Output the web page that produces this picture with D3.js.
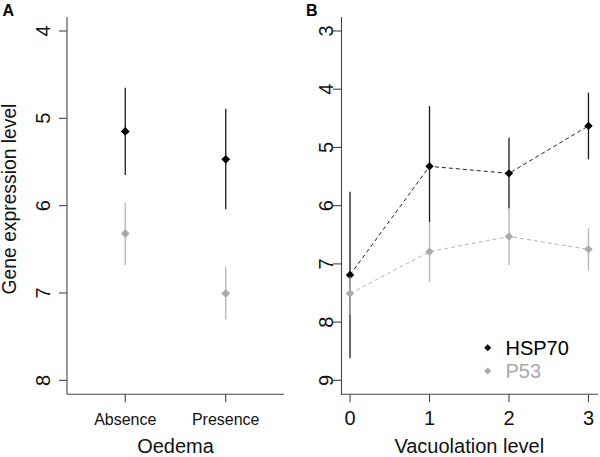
<!DOCTYPE html>
<html>
<head>
<meta charset="utf-8">
<script src="https://cdn.jsdelivr.net/npm/d3@7"></script>
<style>
  body { margin: 0; background: #fff; }
  svg { display: block; font-family: "Liberation Sans", Arial, sans-serif; }
</style>
</head>
<body>
<svg id="chart" width="600" height="457"></svg>
<script>
// ---- Panel A data (Oedema) ----
const oedemaCats = ["Absence", "Presence"];
const oedemaHspMean = [5.15, 5.47];
const oedemaHspLo = [4.65, 4.89];
const oedemaHspHi = [5.65, 6.04];
const oedemaP53Mean = [6.32, 7.005];
const oedemaP53Lo = [5.97, 6.70];
const oedemaP53Hi = [6.68, 7.30];
const aYTicks = [4, 5, 6, 7, 8];

// ---- Panel B data (Vacuolation) ----
const vacLevels = [0, 1, 2, 3];
const vacHspMean = [7.19, 5.325, 5.445, 4.63];
const vacHspLo = [5.76, 4.29, 4.83, 4.06];
const vacHspHi = [8.62, 6.28, 6.05, 5.205];
const vacP53Mean = [7.51, 6.79, 6.53, 6.75];
const vacP53Lo = [7.22, 6.28, 6.04, 6.39];
const vacP53Hi = [7.88, 7.31, 7.02, 7.11];
const bYTicks = [3, 4, 5, 6, 7, 8, 9];

const seriesNames = ["HSP70", "P53"];
const colors = { HSP70: "#000000", P53: "#aaaaaa" };
const barColors = { HSP70: "#1a1a1a", P53: "#b4b4b4" };
const axisColor = "#444";

const svg = d3.select("#chart");
const diamond = (s) => `M0,${-s}L${s},0L0,${s}L${-s},0Z`;

// ---------- Panel A ----------
const ax = d3.scaleLinear().domain([0.42, 2.58]).range([67, 284]);
const ay = d3.scaleLinear().domain([3.84, 8.16]).range([17, 394.3]);
const gA = svg.append("g");

// axes (L box)
gA.append("line").attr("x1", 67).attr("x2", 67).attr("y1", ay(3.84)).attr("y2", ay(8.16))
  .attr("stroke", axisColor).attr("stroke-width", 1.1);
gA.append("line").attr("x1", ax(0.42)).attr("x2", ax(2.58)).attr("y1", ay(8.16)).attr("y2", ay(8.16))
  .attr("stroke", axisColor).attr("stroke-width", 1.1);
aYTicks.forEach(t => {
  gA.append("line").attr("x1", 59).attr("x2", 67).attr("y1", ay(t)).attr("y2", ay(t))
    .attr("stroke", axisColor).attr("stroke-width", 1.1);
  gA.append("text").attr("transform", `translate(50,${ay(t)}) rotate(-90)`)
    .attr("text-anchor", "middle").attr("font-size", 20).attr("fill", "#111").text(t);
});
oedemaCats.forEach((c, i) => {
  gA.append("line").attr("x1", ax(i + 1)).attr("x2", ax(i + 1)).attr("y1", ay(8.16)).attr("y2", ay(8.16) + 8)
    .attr("stroke", axisColor).attr("stroke-width", 1.1);
  gA.append("text").attr("x", ax(i + 1)).attr("y", 425).attr("text-anchor", "middle")
    .attr("font-size", 16).attr("fill", "#111").text(c);
});
gA.append("text").attr("x", ax(1.5)).attr("y", 453).attr("text-anchor", "middle")
  .attr("font-size", 20).attr("fill", "#111").text("Oedema");
gA.append("text").attr("transform", "translate(15.5,199) rotate(-90)").attr("text-anchor", "middle")
  .attr("font-size", 19.3).attr("fill", "#111").text("Gene expression level");
gA.append("text").attr("x", 2.5).attr("y", 15.5).attr("font-size", 16).attr("font-weight", "bold")
  .attr("fill", "#000").text("A");

const aSeries = [
  { name: "HSP70", mean: oedemaHspMean, lo: oedemaHspLo, hi: oedemaHspHi },
  { name: "P53", mean: oedemaP53Mean, lo: oedemaP53Lo, hi: oedemaP53Hi }
];
aSeries.forEach(s => {
  s.mean.forEach((m, i) => {
    gA.append("line").attr("x1", ax(i + 1)).attr("x2", ax(i + 1)).attr("y1", ay(s.lo[i])).attr("y2", ay(s.hi[i]))
      .attr("stroke", barColors[s.name]).attr("stroke-width", 1.3);
    gA.append("path").attr("d", diamond(4.4)).attr("transform", `translate(${ax(i + 1)},${ay(m)})`)
      .attr("fill", colors[s.name]);
  });
});

// ---------- Panel B ----------
const bx = d3.scaleLinear().domain([-0.12, 3.12]).range([340.5, 598]);
const by = d3.scaleLinear().domain([2.76, 9.24]).range([17, 394.3]);
const gB = svg.append("g");

gB.append("line").attr("x1", 341.5).attr("x2", 341.5).attr("y1", by(2.76)).attr("y2", by(9.24))
  .attr("stroke", axisColor).attr("stroke-width", 1.1);
gB.append("line").attr("x1", bx(-0.12)).attr("x2", bx(3.12)).attr("y1", by(9.24)).attr("y2", by(9.24))
  .attr("stroke", axisColor).attr("stroke-width", 1.1);
bYTicks.forEach(t => {
  gB.append("line").attr("x1", 333).attr("x2", 341.5).attr("y1", by(t)).attr("y2", by(t))
    .attr("stroke", axisColor).attr("stroke-width", 1.1);
  gB.append("text").attr("transform", `translate(332.5,${by(t)}) rotate(-90)`)
    .attr("text-anchor", "middle").attr("font-size", 20).attr("fill", "#111").text(t);
});
vacLevels.forEach(v => {
  gB.append("line").attr("x1", bx(v)).attr("x2", bx(v)).attr("y1", by(9.24)).attr("y2", by(9.24) + 8)
    .attr("stroke", axisColor).attr("stroke-width", 1.1);
  gB.append("text").attr("x", bx(v)).attr("y", 424.5).attr("text-anchor", "middle")
    .attr("font-size", 20).attr("fill", "#111").text(v);
});
gB.append("text").attr("x", bx(1.5)).attr("y", 453).attr("text-anchor", "middle")
  .attr("font-size", 20).attr("fill", "#111").text("Vacuolation level");
gB.append("text").attr("x", 306).attr("y", 15.5).attr("font-size", 16).attr("font-weight", "bold")
  .attr("fill", "#000").text("B");

const bSeries = [
  { name: "HSP70", mean: vacHspMean, lo: vacHspLo, hi: vacHspHi },
  { name: "P53", mean: vacP53Mean, lo: vacP53Lo, hi: vacP53Hi }
];
const lineGen = d3.line().x((d, i) => bx(vacLevels[i])).y(d => by(d));
bSeries.forEach(s => {
  gB.append("path").attr("d", lineGen(s.mean)).attr("fill", "none")
    .attr("stroke", s.name === "HSP70" ? "#222" : "#b4b4b4").attr("stroke-width", 1)
    .attr("stroke-dasharray", "4,3");
  s.mean.forEach((m, i) => {
    gB.append("line").attr("x1", bx(vacLevels[i])).attr("x2", bx(vacLevels[i]))
      .attr("y1", by(s.lo[i])).attr("y2", by(s.hi[i]))
      .attr("stroke", barColors[s.name]).attr("stroke-width", 1.3);
  });
  s.mean.forEach((m, i) => {
    gB.append("path").attr("d", diamond(4.2)).attr("transform", `translate(${bx(vacLevels[i])},${by(m)})`)
      .attr("fill", colors[s.name]);
  });
});

// legend
seriesNames.forEach((n, i) => {
  const y = 347.7 + i * 23.3;
  gB.append("path").attr("d", diamond(3.5)).attr("transform", `translate(487.7,${y})`)
    .attr("fill", colors[n]);
  gB.append("text").attr("x", 505.5).attr("y", y + 7.3).attr("font-size", 20)
    .attr("fill", colors[n]).text(n);
});
</script>
</body>
</html>
